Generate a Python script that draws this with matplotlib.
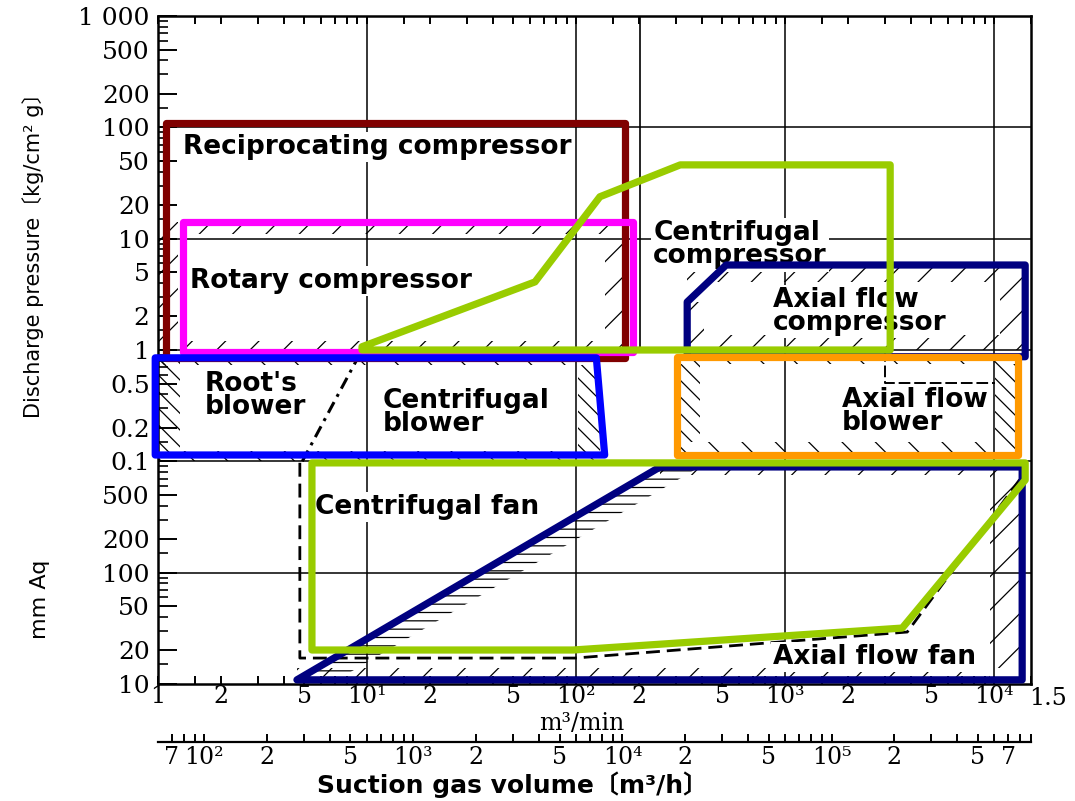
import matplotlib
matplotlib.use("Agg")
import matplotlib.pyplot as plt
from matplotlib.ticker import FixedLocator, FixedFormatter, NullFormatter

plt.rcParams['font.family'] = ['DejaVu Sans', 'Noto Sans CJK JP']
plt.rcParams['hatch.linewidth'] = 0.9

# ---------------- data ----------------
# x: suction gas volume [m3/min]; y: discharge pressure [kg/cm2 g]  (10 mmAq = 0.001 kg/cm2)
recip_x = [1.09, 1.09, 172, 172]
recip_y = [0.85, 110, 110, 0.85]
rotary_x = [1.32, 1.32, 187, 187]
rotary_y = [0.96, 14.2, 14.2, 0.96]
blower_x = [0.97, 0.97, 125, 137]
blower_y = [0.114, 0.85, 0.85, 0.114]
ax_comp_x = [340, 340, 522, 14070, 14070, 340]
ax_comp_y = [0.96, 2.7, 5.8, 5.8, 0.87, 0.87]
ax_blow_x = [304, 304, 13030, 13030]
ax_blow_y = [0.114, 0.86, 0.86, 0.114]
ax_fan_x = [4.62, 252, 13610, 13610]
ax_fan_y = [0.00109, 0.089, 0.089, 0.00109]
cf_fan_x = [5.45, 14070, 14070, 3630, 96.8, 5.45]
cf_fan_y = [0.0968, 0.0968, 0.068, 0.00318, 0.00202, 0.00202]
cf_comp_x = [9.46, 63.6, 130, 315, 3180, 3180, 9.46]
cf_comp_y = [1.07, 4.09, 23.8, 46, 46, 1.0, 1.0]

# original (scanned) chart boundary lines
roots_bound_x = [4.9, 9.46]
roots_bound_y = [0.1, 1.0]
fan_bound_x = [4.77, 4.77, 98.6, 3837, 14070]
fan_bound_y = [0.097, 0.00171, 0.00171, 0.00293, 0.080]
axc_bound_x = [3010, 3010, 10100]
axc_bound_y = [1.0, 0.506, 0.506]
recip_bound_x = [202, 202]
recip_bound_y = [1.0, 1000]

grid_x = [10, 100, 1000, 1e4]
grid_y = [0.01, 0.1, 1, 10, 100]

# hatched strips of the original chart: x0, x1, y0, y1, pattern
hatch_rects = [
    (1.32, 187, 11.0, 14.2, '/'),
    (1.32, 187, 1.0, 1.21, '/'),
    (138, 172, 1.21, 11.0, '/'),
    (1.0, 1.25, 1.0, 14.0, '/'),
    (1.0, 1.28, 0.114, 0.85, '\\\\'),
    (1.0, 140, 0.1, 0.125, '\\'),
    (1.0, 140, 0.74, 0.85, '\\'),
    (102, 130, 0.125, 0.74, '\\\\'),
    (340, 14000, 4.09, 5.47, '/'),
    (340, 14000, 1.0, 1.37, '/'),
    (350, 410, 1.37, 2.7, '/'),
    (10690, 13600, 1.37, 4.09, '/'),
    (315, 390, 0.15, 0.75, '\\\\'),
    (315, 13000, 0.114, 0.15, '\\'),
    (315, 13000, 0.75, 0.86, '\\'),
    (10100, 12600, 0.15, 0.75, '\\\\'),
    (252, 13600, 0.075, 0.089, '/'),
    (9500, 13500, 0.00139, 0.075, '/'),
    (4.62, 9500, 0.00109, 0.00139, '/'),
]
wedge_x = [4.62, 252, 390, 7.2]
wedge_y = [0.00109, 0.089, 0.089, 0.00109]

x_ticks = [1, 2, 5, 10, 20, 50, 100, 200, 500, 1000, 2000, 5000, 1e4, 1.5e4]
x_labels = ['1', '2', '5', '10¹', '2', '5', '10²', '2', '5', '10³', '2', '5', '10⁴', '']
x_end_label = '1.5'
y_ticks = [1e-3, 2e-3, 5e-3, 1e-2, 2e-2, 5e-2, 0.1, 0.2, 0.5, 1, 2, 5, 10, 20, 50, 100, 200, 500, 1000]
y_labels = ['10', '20', '50', '100', '200', '500', '0.1', '0.2', '0.5', '1', '2', '5', '10', '20', '50',
            '100', '200', '500', '1 000']
h_ticks = [70, 100, 200, 500, 1e3, 2e3, 5e3, 1e4, 2e4, 5e4, 1e5, 2e5, 5e5, 7e5]
h_labels = ['7', '10²', '2', '5', '10³', '2', '5', '10⁴', '2', '5', '10⁵', '2', '5', '7']

labels = [
    ("Reciprocating compressor", 1.32, 66.8),
    ("Rotary compressor", 1.42, 4.18),
    ("Root's\nblower", 1.68, 0.387),
    ("Centrifugal\nblower", 11.9, 0.272),
    ("Centrifugal\ncompressor", 234, 8.79),
    ("Axial flow\ncompressor", 877, 2.2),
    ("Axial flow\nblower", 1875, 0.278),
    ("Centrifugal fan", 5.64, 0.0389),
    ("Axial flow fan", 877, 0.00175),
]

# ---------------- figure ----------------
W, H = 1075, 801
L, R, T, B = 158, 1031, 16, 684
fig = plt.figure(figsize=(W / 100, H / 100), dpi=100)
fig.patch.set_facecolor('white')
ax = fig.add_axes([L / W, 1 - B / H, (R - L) / W, (B - T) / H])
ax.set_xscale('log')
ax.set_yscale('log')
ax.set_xlim(1, 1.5e4)
ax.set_ylim(1e-3, 1e3)

for s in ax.spines.values():
    s.set_linewidth(1.8)

# ticks
ax.xaxis.set_major_locator(FixedLocator(x_ticks))
ax.xaxis.set_major_formatter(FixedFormatter(x_labels))
xminor = [m * 10 ** d for d in range(0, 5) for m in (1.5, 3, 4, 6, 7, 8, 9) if m * 10 ** d < 1.5e4]
ax.xaxis.set_minor_locator(FixedLocator(xminor))
ax.xaxis.set_minor_formatter(NullFormatter())
ax.yaxis.set_major_locator(FixedLocator(y_ticks))
ax.yaxis.set_major_formatter(FixedFormatter(y_labels))
yminor = [m * 10 ** d for d in range(-3, 3) for m in (1.5, 3, 4, 6, 7, 8, 9)]
ax.yaxis.set_minor_locator(FixedLocator(yminor))
ax.yaxis.set_minor_formatter(NullFormatter())
ax.tick_params(axis='x', which='both', direction='in', top=True, bottom=True, length=6, width=1.4,
               labelsize=17, pad=1, labelfontfamily='DejaVu Serif')
ax.tick_params(axis='y', which='major', direction='in', left=True, right=False, length=14, width=1.4,
               labelsize=18, pad=6, labelfontfamily='DejaVu Serif')
ax.tick_params(axis='y', which='minor', direction='in', left=True, right=False, length=7, width=1.2)
ax.annotate(x_end_label, xy=(1.5e4, 1e-3), xytext=(12, -2), textcoords='offset points',
            ha='center', va='top', fontsize=17, family='DejaVu Serif', annotation_clip=False)

# grid of the original chart
for gx in grid_x:
    ax.axvline(gx, color='black', lw=1.1, zorder=1)
for gy in grid_y:
    ax.axhline(gy, color='black', lw=1.1, zorder=1)

# scanned boundary lines
ax.plot(roots_bound_x, roots_bound_y, color='black', lw=2.2, ls=(0, (4, 2, 1, 2)), zorder=2)
ax.plot(fan_bound_x, fan_bound_y, color='black', lw=2.0, ls=(0, (5, 2.5)), zorder=2)
ax.plot(axc_bound_x, axc_bound_y, color='black', lw=1.4, ls=(0, (6, 2)), zorder=2)
ax.plot(recip_bound_x, recip_bound_y, color='black', lw=1.2, zorder=1)

# hatching
for x0, x1, y0, y1, pat in hatch_rects:
    ax.fill([x0, x1, x1, x0], [y0, y0, y1, y1], facecolor='none', edgecolor='black',
            lw=0, hatch=pat, zorder=2)
ax.fill(wedge_x, wedge_y, facecolor='none', edgecolor='black', lw=0, hatch='--', zorder=2)

# labels
for txt, lx, ly in labels:
    ax.text(lx, ly, txt, fontsize=19, fontweight='bold', family='DejaVu Sans', ha='left', va='center',
            linespacing=0.85, zorder=3,
            bbox=dict(facecolor='white', edgecolor='none', pad=1.5))

# coloured outlines
def outline(xs, ys, color, z):
    ax.fill(xs, ys, facecolor='none', edgecolor=color, lw=5.2, joinstyle='round',
            clip_on=False, zorder=z)

outline(recip_x, recip_y, '#800000', 5)
outline(rotary_x, rotary_y, '#FF00FF', 6)
outline(blower_x, blower_y, '#0000FF', 7)
outline(ax_comp_x, ax_comp_y, '#000080', 7)
outline(ax_blow_x, ax_blow_y, '#FF9900', 8)
outline(ax_fan_x, ax_fan_y, '#000080', 8)
outline(cf_comp_x, cf_comp_y, '#99CC00', 9)
outline(cf_fan_x, cf_fan_y, '#99CC00', 9)

# secondary axis in m3/h
sec = ax.secondary_xaxis(-0.087, functions=(lambda v: v * 60, lambda v: v / 60))
sec.set_xscale('log')
sec.xaxis.set_major_locator(FixedLocator(h_ticks))
sec.xaxis.set_major_formatter(FixedFormatter(h_labels))
hminor = [m * 10 ** d for d in range(2, 6) for m in (3, 4, 6, 7, 8, 9)] + [80, 90]
sec.xaxis.set_minor_locator(FixedLocator(hminor))
sec.xaxis.set_minor_formatter(NullFormatter())
sec.tick_params(which='both', direction='in', length=6, width=1.4, labelsize=17, pad=3,
                labelfontfamily='DejaVu Serif')
sec.spines['bottom'].set_linewidth(1.6)

# axis titles
fig.text(582 / W, 1 - 723 / H, 'm³/min', fontsize=17, family='DejaVu Serif', ha='center', va='center')
fig.text(513 / W, 1 - 785 / H, 'Suction gas volume〔m³/h〕', fontsize=18, fontweight='bold',
         family=['DejaVu Sans', 'Noto Sans CJK JP'], ha='center', va='center')
fig.text(33 / W, 1 - 250 / H, 'Discharge pressure〔kg/cm² g〕', fontsize=15, rotation=90,
         family=['DejaVu Sans', 'Noto Sans CJK JP'], ha='center', va='center')
fig.text(40 / W, 1 - 599 / H, 'mm Aq', fontsize=16, rotation=90,
         family=['DejaVu Sans'], ha='center', va='center')

fig.savefig('out.png', dpi=100, facecolor='white')
